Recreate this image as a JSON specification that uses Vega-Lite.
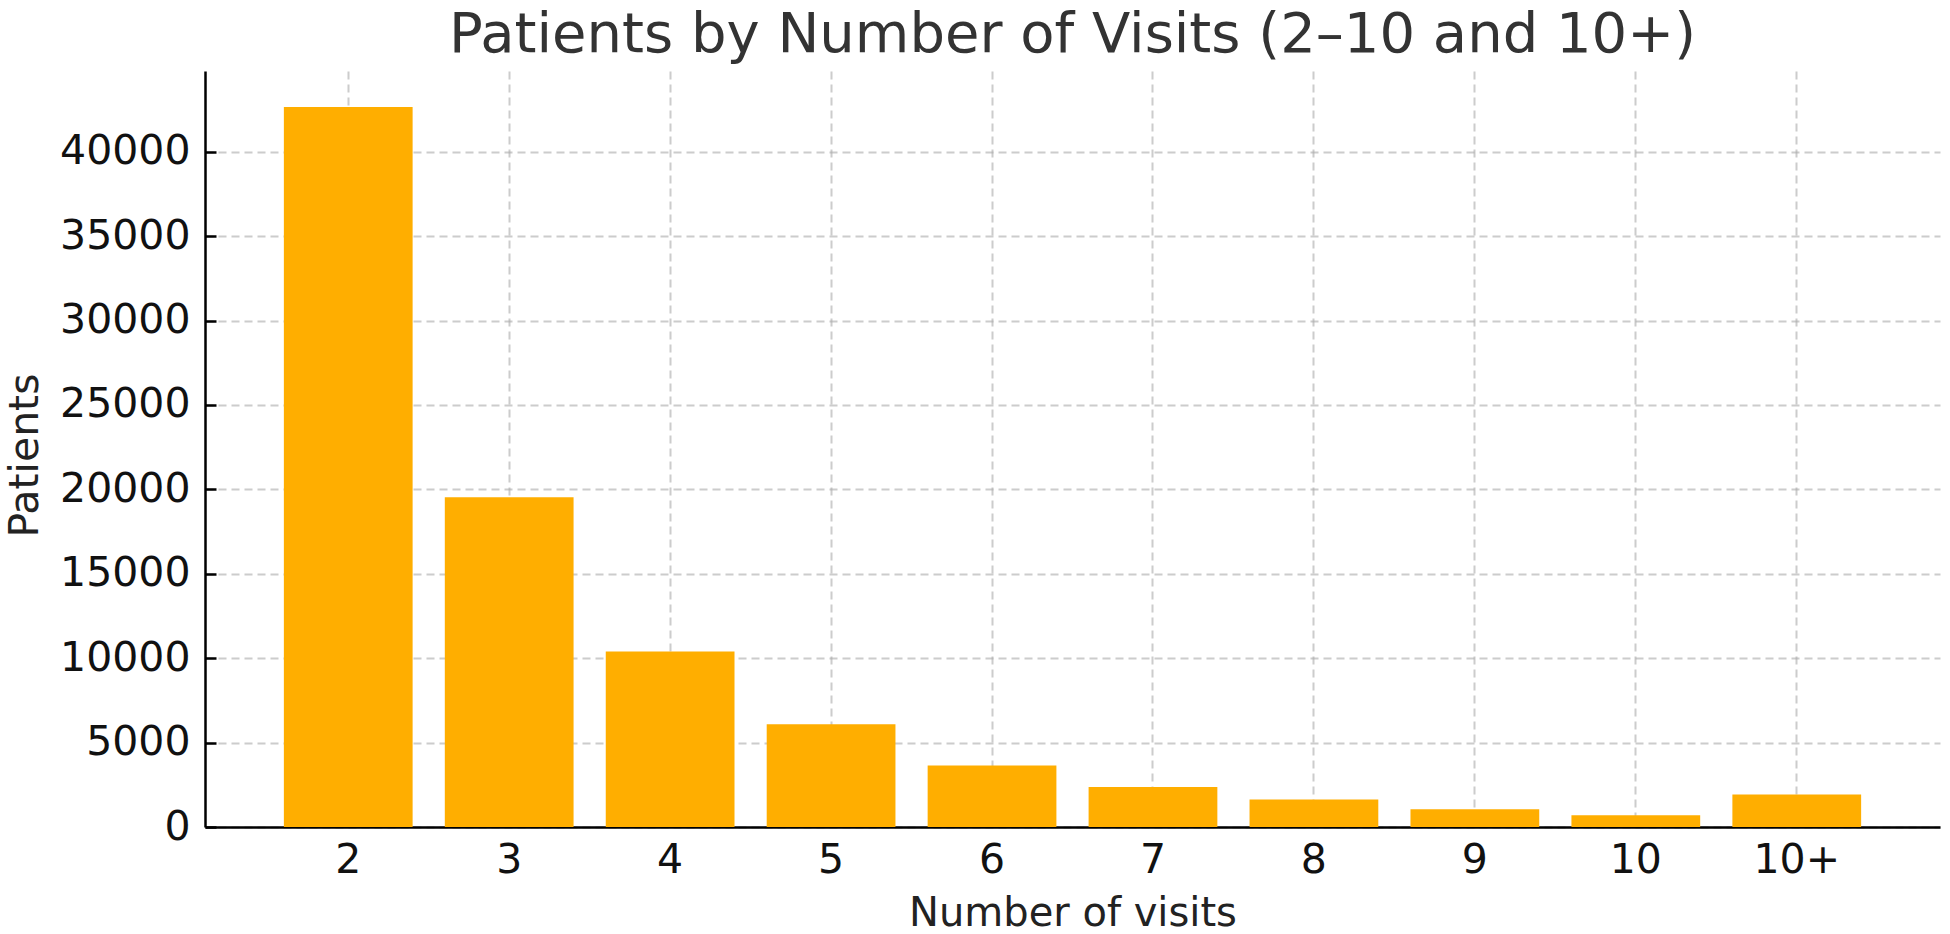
{
  "$schema": "https://vega.github.io/schema/vega-lite/v6.json",
  "autosize": {"type": "none"},
  "padding": {"left": 205, "top": 71, "right": 10, "bottom": 107},
  "width": 1735,
  "height": 756,
  "background": "white",
  "title": {
    "text": "Patients by Number of Visits (2–10 and 10+)",
    "font": "DejaVu Sans",
    "fontSize": 56,
    "fontWeight": "normal",
    "color": "#333333",
    "anchor": "middle",
    "offset": 7
  },
  "data": {
    "values": [
      {"visits": "2", "patients": 42650},
      {"visits": "3", "patients": 19530},
      {"visits": "4", "patients": 10400},
      {"visits": "5", "patients": 6080},
      {"visits": "6", "patients": 3650},
      {"visits": "7", "patients": 2370},
      {"visits": "8", "patients": 1635},
      {"visits": "9", "patients": 1045},
      {"visits": "10", "patients": 690},
      {"visits": "10+", "patients": 1930}
    ]
  },
  "mark": {"type": "bar", "color": "#FFAE00"},
  "encoding": {
    "x": {
      "field": "visits",
      "type": "ordinal",
      "sort": null,
      "scale": {"paddingInner": 0.2, "paddingOuter": 0.49},
      "axis": {
        "title": "Number of visits",
        "labelAngle": 0,
        "bandPosition": 0.5,
        "tickSize": -11,
        "tickWidth": 2.5,
        "tickColor": "black",
        "labelPadding": 24,
        "titleFontSize": 40,
        "titleY": 98,
        "titleBaseline": "alphabetic"
      }
    },
    "y": {
      "field": "patients",
      "type": "quantitative",
      "scale": {"domain": [0, 44783], "nice": false, "zero": true},
      "axis": {
        "title": "Patients",
        "format": "d",
        "values": [0, 5000, 10000, 15000, 20000, 25000, 30000, 35000, 40000],
        "tickSize": -11,
        "tickWidth": 2.5,
        "tickColor": "black",
        "labelPadding": 26,
        "titleX": -168,
        "titleY": 384,
        "titleAngle": 270,
        "titleAlign": "center",
        "titleBaseline": "alphabetic"
      }
    }
  },
  "config": {
    "view": {"stroke": null},
    "axis": {
      "labelFont": "DejaVu Sans",
      "labelFontSize": 41,
      "labelColor": "#111111",
      "titleFont": "DejaVu Sans",
      "titleFontSize": 41,
      "titleFontWeight": "normal",
      "titleColor": "#222222",
      "domainColor": "black",
      "domainWidth": 2.5,
      "grid": true,
      "gridColor": "#aaaaaa",
      "gridOpacity": 0.6,
      "gridWidth": 2,
      "gridDash": [8, 5],
      "zindex": 1
    }
  }
}
